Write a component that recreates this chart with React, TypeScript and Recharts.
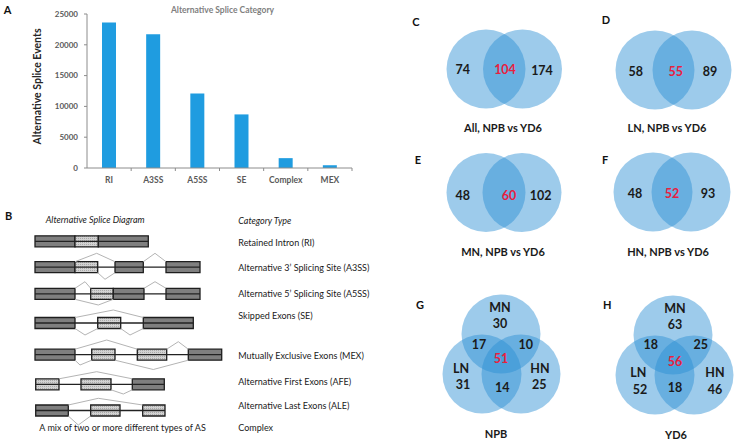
import React from 'react';
import {
  BarChart,
  Bar,
  XAxis,
  YAxis,
  ScatterChart,
  Scatter,
  ReferenceArea,
  ReferenceLine,
} from 'recharts';

// Panel A: splice event counts
const CATEGORIES = ['RI', 'A3SS', 'A5SS', 'SE', 'Complex', 'MEX'];
const EVENTS = [23600, 21700, 12100, 8700, 1600, 450];
const Y_TICKS = [0, 5000, 10000, 15000, 20000, 25000];

// Panel B: diagram rows (centre y) and their names
const ROW_Y = [241.3, 267.2, 293.8, 323, 354.7, 384.3, 410.5];
const ROW_NAMES = [
  'Retained Intron (RI)',
  'Alternative 3\u2019 Splicing Site (A3SS)',
  'Alternative 5\u2019 Splicing Site (A5SS)',
  'Skipped Exons (SE)',
  'Mutually Exclusive Exons (MEX)',
  'Alternative First Exons (AFE)',
  'Alternative Last Exons (ALE)',
  'Complex',
];
const ROW_NAME_Y = [242.7, 267.7, 293.3, 315.7, 355, 381.7, 405.7, 427.7];
// [row, start, end, constitutive?]
const EXONS: [number, number, number, boolean][] = [
  [0, 35, 75, true], [0, 75, 98.3, false], [0, 98.3, 148.3, true],
  [1, 35, 75, true], [1, 75, 97.7, false], [1, 115, 143.3, true], [1, 166, 200, true],
  [2, 35, 75, true], [2, 90.7, 113.3, false], [2, 113.3, 144, true], [2, 166, 200, true],
  [3, 35, 75, true], [3, 97.7, 120.7, false], [3, 143.3, 193.3, true],
  [4, 35, 75, true], [4, 91.7, 115, false], [4, 137.3, 166.7, false], [4, 188.3, 221.7, true],
  [5, 35.7, 59, false], [5, 81, 111, false], [5, 132.3, 164.3, true],
  [6, 35.7, 68.3, true], [6, 90.7, 120, false], [6, 142.7, 165, false],
];
// [row, from, peak x, to, peak offset (negative = above)]
const ARCS: [number, number, number, number, number][] = [
  [1, 75, 96.7, 115, -13.9], [1, 97.7, 105, 115, 12.1], [1, 143.3, 155, 166, -13.9],
  [2, 75, 85, 90.7, -12.1], [2, 75, 98.3, 113.3, 11.2], [2, 144, 155, 166, -12.1],
  [3, 75, 113.3, 143.3, -13], [3, 75, 85, 97.7, 12], [3, 120.7, 130, 143.3, 12],
  [4, 75, 106.7, 137.3, -14.7], [4, 75, 80, 91.7, 10.3], [4, 166.7, 178.3, 188.3, -13], [4, 115, 153.3, 188.3, 14.8],
  [5, 59, 96.7, 132.3, -12.6], [5, 111, 123.3, 132.3, 9.7],
  [6, 68.3, 98.3, 142.7, -12.2], [6, 68.3, 78.3, 90.7, 14.5],
];

// Panels C-H: venn circles and counts
const VENN_CIRCLES = [
  { x: 486, y: 69 }, { x: 522.5, y: 69 },
  { x: 655, y: 70 }, { x: 692, y: 70 },
  { x: 486, y: 192.5 }, { x: 522, y: 192.5 },
  { x: 653, y: 192 }, { x: 691, y: 192 },
  { x: 501, y: 334 }, { x: 482, y: 374 }, { x: 521, y: 374 },
  { x: 673, y: 335 }, { x: 655, y: 375 }, { x: 694, y: 375 },
];
const VENN_COUNTS = [
  { x: 462.7, y: 69.5, label: '74' }, { x: 505, y: 69.5, label: '104', shared: true }, { x: 542, y: 70.5, label: '174' },
  { x: 635.7, y: 71, label: '58' }, { x: 675.7, y: 71, label: '55', shared: true }, { x: 710, y: 71, label: '89' },
  { x: 462.7, y: 195, label: '48' }, { x: 509, y: 195, label: '60', shared: true }, { x: 540.7, y: 195, label: '102' },
  { x: 635, y: 193.5, label: '48' }, { x: 672, y: 193.5, label: '52', shared: true }, { x: 708, y: 193.5, label: '93' },
  { x: 500, y: 307, label: 'MN' }, { x: 500, y: 323.5, label: '30' },
  { x: 479, y: 344.5, label: '17' }, { x: 501, y: 358, label: '51', shared: true }, { x: 525.7, y: 344.5, label: '10' },
  { x: 461, y: 368.5, label: 'LN' }, { x: 463, y: 384.5, label: '31' },
  { x: 502.3, y: 387, label: '14' },
  { x: 540, y: 368.5, label: 'HN' }, { x: 539.3, y: 384.5, label: '25' },
  { x: 675, y: 308.3, label: 'MN' }, { x: 675, y: 324.3, label: '63' },
  { x: 650.7, y: 344.3, label: '18' }, { x: 675, y: 361, label: '56', shared: true }, { x: 700.7, y: 344.3, label: '25' },
  { x: 638.3, y: 372.3, label: 'LN' }, { x: 640, y: 389, label: '52' },
  { x: 675, y: 387.3, label: '18' },
  { x: 715, y: 372.3, label: 'HN' }, { x: 715, y: 389, label: '46' },
];
const PANEL_LETTERS = [
  { t: 'A', x: 7.5, y: 9 }, { t: 'B', x: 8.5, y: 215 },
  { t: 'C', x: 416, y: 21.5 }, { t: 'D', x: 606, y: 19.5 },
  { t: 'E', x: 418, y: 159 }, { t: 'F', x: 605, y: 159 },
  { t: 'G', x: 420, y: 304 }, { t: 'H', x: 607.3, y: 304 },
];
const VENN_TITLES = [
  { t: 'All, NPB vs YD6', x: 503, y: 127 },
  { t: 'LN, NPB vs YD6', x: 667, y: 127 },
  { t: 'MN, NPB vs YD6', x: 503, y: 251.7 },
  { t: 'HN, NPB vs YD6', x: 668, y: 251.7 },
  { t: 'NPB', x: 496, y: 433.3 },
  { t: 'YD6', x: 676, y: 434.3 },
];

const FONT = 'Lato, "Open Sans", sans-serif';
const BAR_BLUE = '#1f9ce0';
const AXIS_GRAY = '#8c8c8c';
const PLOT_W = 265;
const EXON_HALF = 5.5;

const barData = CATEGORIES.map((name, i) => ({ name, events: EVENTS[i] }));

function CategoryTick(props: any) {
  const { x, y, payload } = props;
  const band = PLOT_W / CATEGORIES.length;
  return (
    <g>
      <line x1={x + band / 2} y1={y} x2={x + band / 2} y2={y + 3} stroke={AXIS_GRAY} />
      <text
        x={x}
        y={y + 15}
        textAnchor="middle"
        fontFamily={FONT}
        fontWeight={700}
        fontSize={8.5}
        fill="#5a5a5a"
      >
        {payload.value}
      </text>
    </g>
  );
}

function SpliceBars() {
  return (
    <BarChart width={360} height={200} data={barData} margin={{ top: 14, right: 8, left: 0, bottom: 0 }}>
      <XAxis
        dataKey="name"
        height={32}
        interval={0}
        axisLine={{ stroke: AXIS_GRAY }}
        tickLine={false}
        tickSize={0}
        tickMargin={0}
        tick={<CategoryTick />}
      />
      <YAxis
        width={87}
        domain={[0, 25000]}
        ticks={Y_TICKS}
        axisLine={{ stroke: AXIS_GRAY }}
        tickLine={{ stroke: AXIS_GRAY }}
        tickSize={3}
        tickMargin={6}
        tick={{ fontSize: 8, fontWeight: 700, fill: '#5a5a5a', fontFamily: FONT }}
      />
      <Bar dataKey="events" fill={BAR_BLUE} barSize={14} isAnimationActive={false} />
    </BarChart>
  );
}

function SpliceDiagram() {
  const spans = ROW_Y.map((_, r) => {
    const ex = EXONS.filter((e) => e[0] === r);
    return [Math.min(...ex.map((e) => e[1])), Math.max(...ex.map((e) => e[2]))];
  });
  return (
    <ScatterChart width={360} height={245} margin={{ top: 0, right: 0, left: 0, bottom: 0 }}>
      <defs>
        <pattern id="stipple" width="2" height="2" patternUnits="userSpaceOnUse">
          <rect width="2" height="2" fill="#d2d2d2" />
          <rect width="1" height="1" fill="#a9a9a9" />
        </pattern>
      </defs>
      <XAxis type="number" dataKey="x" domain={[0, 360]} hide />
      <YAxis type="number" dataKey="y" domain={[200, 445]} reversed hide />
      <Scatter data={[{ x: 0, y: 200 }]} shape={() => <g />} isAnimationActive={false} />
      {spans.map(([a, b], r) => (
        <ReferenceLine
          key={`in-${r}`}
          segment={[{ x: a, y: ROW_Y[r] }, { x: b, y: ROW_Y[r] }]}
          stroke="#222"
          strokeWidth={1.3}
          ifOverflow="visible"
        />
      ))}
      {ARCS.map(([r, a, p, b, off], i) => {
        const edge = ROW_Y[r] + Math.sign(off) * EXON_HALF;
        const peak = ROW_Y[r] + off;
        return [
          <ReferenceLine
            key={`arc-a-${i}`}
            segment={[{ x: a, y: edge }, { x: p, y: peak }]}
            stroke="#b4b4b4"
            strokeWidth={1}
            ifOverflow="visible"
          />,
          <ReferenceLine
            key={`arc-b-${i}`}
            segment={[{ x: p, y: peak }, { x: b, y: edge }]}
            stroke="#b4b4b4"
            strokeWidth={1}
            ifOverflow="visible"
          />,
        ];
      })}
      {EXONS.map(([r, a, b, dark], i) => (
        <ReferenceArea
          key={`ex-${i}`}
          x1={a}
          x2={b}
          y1={ROW_Y[r] - EXON_HALF}
          y2={ROW_Y[r] + EXON_HALF}
          fill={dark ? '#7f7f7f' : 'url(#stipple)'}
          fillOpacity={1}
          stroke="#1e1e1e"
          strokeWidth={1.3}
          ifOverflow="visible"
        />
      ))}
    </ScatterChart>
  );
}

function VennCircle(props: any) {
  return <circle cx={props.cx} cy={props.cy} r={39.5} fill="#2a8ed3" fillOpacity={0.46} />;
}

function VennCount(props: any) {
  const { cx, cy, payload } = props;
  return (
    <text
      x={cx}
      y={cy}
      textAnchor="middle"
      dominantBaseline="central"
      fontFamily={FONT}
      fontWeight={700}
      fontSize={12.5}
      fill={payload.shared ? '#e8203f' : '#1a1a1a'}
    >
      {payload.label}
    </text>
  );
}

function Venns() {
  return (
    <ScatterChart width={369} height={445} margin={{ top: 0, right: 0, left: 0, bottom: 0 }}>
      <XAxis type="number" dataKey="x" domain={[370, 739]} hide />
      <YAxis type="number" dataKey="y" domain={[0, 445]} reversed hide />
      <Scatter data={VENN_CIRCLES} shape={<VennCircle />} isAnimationActive={false} />
      <Scatter data={VENN_COUNTS} shape={<VennCount />} isAnimationActive={false} />
    </ScatterChart>
  );
}

export default function App() {
  const txt = { fontFamily: FONT } as const;
  return (
    <div
      style={{
        position: 'fixed',
        left: 0,
        top: 0,
        width: 739,
        height: 445,
        background: '#fff',
        overflow: 'hidden',
      }}
    >
      <div style={{ position: 'absolute', left: 0, top: 0 }}>
        <SpliceBars />
      </div>
      <div style={{ position: 'absolute', left: 0, top: 200 }}>
        <SpliceDiagram />
      </div>
      <div style={{ position: 'absolute', left: 370, top: 0 }}>
        <Venns />
      </div>
      <svg
        width={739}
        height={445}
        style={{ position: 'absolute', left: 0, top: 0, pointerEvents: 'none' }}
      >
        <text x={222.5} y={10} textAnchor="middle" dominantBaseline="central" {...txt} fontWeight={700} fontSize={8.5} fill="#808080">
          Alternative Splice Category
        </text>
        <text
          transform="translate(37,86.5) rotate(-90)"
          textAnchor="middle"
          dominantBaseline="central"
          {...txt}
          fontWeight={700}
          fontSize={10.5}
          fill="#262626"
        >
          Alternative Splice Events
        </text>
        {PANEL_LETTERS.map((p) => (
          <text key={p.t} x={p.x} y={p.y} textAnchor="middle" dominantBaseline="central" {...txt} fontWeight={700} fontSize={11} fill="#111">
            {p.t}
          </text>
        ))}
        {VENN_TITLES.map((v) => (
          <text key={v.t} x={v.x} y={v.y} textAnchor="middle" dominantBaseline="central" {...txt} fontWeight={700} fontSize={11} fill="#1a1a1a">
            {v.t}
          </text>
        ))}
        <text x={45.7} y={219} dominantBaseline="central" {...txt} fontStyle="italic" fontSize={9} fill="#1a1a1a">
          Alternative Splice Diagram
        </text>
        <text x={238.3} y={220} dominantBaseline="central" {...txt} fontStyle="italic" fontSize={9} fill="#1a1a1a">
          Category Type
        </text>
        {ROW_NAMES.map((n, i) => (
          <text key={n} x={238.3} y={ROW_NAME_Y[i]} dominantBaseline="central" {...txt} fontSize={9} fill="#1a1a1a">
            {n}
          </text>
        ))}
        <text x={39.3} y={427.7} dominantBaseline="central" {...txt} fontSize={9} fill="#1a1a1a">
          A mix of two or more different types of AS
        </text>
      </svg>
    </div>
  );
}
